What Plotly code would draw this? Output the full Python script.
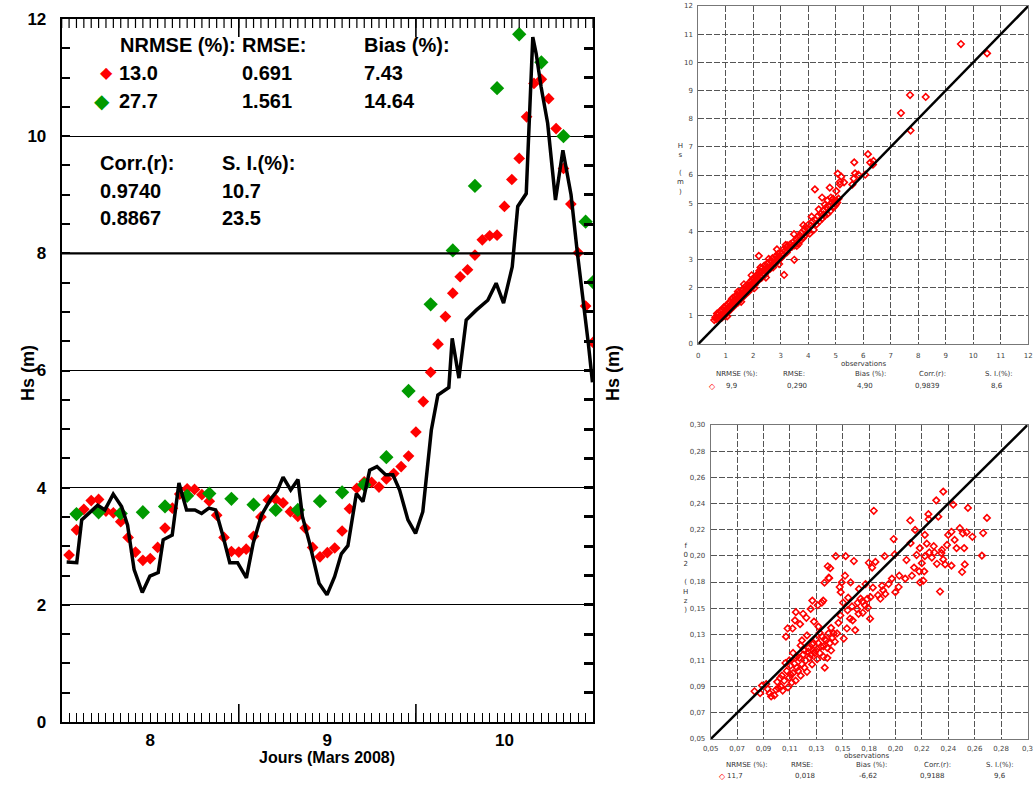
import numpy as np
import plotly.graph_objects as go

# ---------------- Left panel: Hs time series (March 2008) ----------------
obs_day = [7.528, 7.585, 7.613, 7.660, 7.703, 7.744, 7.791, 7.838, 7.872, 7.909,
           7.955, 7.998, 8.045, 8.073, 8.124, 8.162, 8.205, 8.252, 8.290, 8.331,
           8.369, 8.411, 8.449, 8.493, 8.543, 8.581, 8.628, 8.681, 8.718, 8.750,
           8.793, 8.834, 8.859, 8.900, 8.953, 8.998, 9.041, 9.079, 9.116, 9.164,
           9.201, 9.239, 9.280, 9.329, 9.370, 9.408, 9.455, 9.498, 9.539, 9.587,
           9.624, 9.686, 9.705, 9.743, 9.784, 9.841, 9.906, 9.953, 9.995, 10.044,
           10.075, 10.123, 10.137, 10.160, 10.179, 10.207, 10.244, 10.288, 10.330, 10.376,
           10.412, 10.451, 10.474, 10.497]
obs_hs = [2.73, 2.72, 3.45, 3.59, 3.70, 3.62, 3.89, 3.68, 3.36, 2.60,
          2.21, 2.49, 2.55, 3.11, 3.19, 4.08, 3.62, 3.62, 3.56, 3.65,
          3.62, 3.17, 2.72, 2.72, 2.46, 3.05, 3.53, 3.81, 3.95, 4.18,
          3.96, 4.14, 3.51, 3.05, 2.37, 2.17, 2.48, 2.87, 3.01, 3.90,
          3.76, 4.30, 4.36, 4.22, 4.22, 3.96, 3.45, 3.22, 3.59, 4.98,
          5.58, 5.71, 6.55, 5.87, 6.86, 7.03, 7.20, 7.49, 7.15, 7.77,
          8.80, 9.02, 10.10, 11.69, 11.41, 10.84, 10.22, 8.91, 9.76, 9.00,
          8.00, 7.05, 6.45, 5.80]

# model 1 (red): hourly, hours counted from 7 March 00:00
model1_hour = list(range(13, 85))
model1_hs = [2.85, 3.28, 3.63, 3.78, 3.80, 3.60, 3.57, 3.42, 3.15, 2.90,
             2.76, 2.79, 2.98, 3.31, 3.65, 3.89, 3.98, 3.97, 3.88, 3.77,
             3.53, 3.15, 2.91, 2.90, 2.95, 3.17, 3.50, 3.79, 3.80, 3.74,
             3.59, 3.51, 3.31, 2.98, 2.82, 2.89, 2.97, 3.26, 3.64, 3.99,
             4.10, 4.09, 4.01, 4.15, 4.24, 4.36, 4.54, 4.95, 5.47, 5.97,
             6.45, 6.92, 7.32, 7.60, 7.72, 7.97, 8.23, 8.30, 8.31, 8.80,
             9.26, 9.62, 10.33, 10.90, 10.97, 10.64, 10.13, 9.45, 8.84, 8.01,
             7.10, 6.48]
# model 2 (green): 3-hourly
model2_hour = [14, 17, 20, 23, 26, 29, 32, 35, 38, 41, 44, 47, 50, 53, 56, 59,
               62, 65, 68, 71, 74, 77, 80, 83, 84]
model2_hs = [3.55, 3.58, 3.56, 3.58, 3.68, 3.86, 3.90, 3.81, 3.71, 3.62,
             3.62, 3.77, 3.92, 4.05, 4.52, 5.65, 7.13, 8.05, 9.15, 10.82,
             11.74, 11.26, 10.00, 8.54, 7.51]

day_range = [7.5, 10.5]
day_ticks = [8, 9, 10]
day_labels = ["8", "9", "10"]
half_day_ticks = [8.5, 9.5]
hour_ticks = [7.5 + k / 24 for k in range(73)]
hs_ticks = [0, 2, 4, 6, 8, 10, 12]
hs_half_ticks = [0.5 * i for i in range(25)]
strong_level = [8]

# ---------------- Top right: Hs scatter ----------------
hs_range = [0, 12]
hs_obs = [0.58, 0.62, 0.65, 0.70, 0.72, 0.75, 0.78, 0.80, 0.83, 0.85,
          0.88, 0.90, 0.93, 0.95, 0.98, 1.00, 1.02, 1.05, 1.08, 1.10,
          1.12, 1.15, 1.18, 1.20, 1.22, 1.25, 1.28, 1.30, 1.33, 1.35,
          1.38, 1.40, 1.42, 1.45, 1.48, 1.50, 1.52, 1.55, 1.58, 1.60,
          1.62, 1.65, 1.68, 1.70, 1.72, 1.75, 1.78, 1.80, 1.82, 1.85,
          1.88, 1.90, 1.92, 1.95, 1.98, 2.00, 2.02, 2.05, 2.08, 2.10,
          2.12, 2.15, 2.18, 2.20, 2.22, 2.25, 2.28, 2.30, 2.33, 2.35,
          2.38, 2.40, 2.42, 2.45, 2.48, 2.50, 2.52, 2.55, 2.58, 2.60,
          2.62, 2.65, 2.68, 2.70, 2.72, 2.75, 2.78, 2.80, 2.82, 2.85,
          2.88, 2.90, 2.92, 2.95, 2.98, 3.00, 3.05, 3.08, 3.10, 3.15,
          3.20, 3.22, 3.25, 3.30, 3.35, 3.40, 3.45, 3.50, 3.55, 3.60,
          3.62, 3.65, 3.70, 3.72, 3.75, 3.80, 3.85, 3.88, 3.90, 3.95,
          4.00, 4.02, 4.05, 4.10, 4.15, 4.20, 4.25, 4.30, 4.35, 4.40,
          4.45, 4.50, 4.55, 4.60, 4.65, 4.70,
          4.75, 4.80, 4.85, 4.90, 4.95, 5.00, 5.02, 4.60, 4.70, 4.82,
          4.95, 4.55, 4.88, 5.05,
          2.20, 3.12, 3.49, 4.24, 4.50, 4.78, 4.90, 5.02, 5.10, 5.07,
          5.15, 5.15, 5.20, 5.30, 5.60, 5.65, 5.67, 5.70, 5.82, 6.07,
          6.17, 6.25, 6.35, 6.37, 7.37, 7.72, 7.70, 8.27, 9.55, 10.50,
          0.68, 0.92, 1.26, 1.44, 1.66, 1.94, 2.26, 2.56, 2.86, 3.18,
          3.48, 3.82, 4.12, 4.38, 1.05, 1.56, 2.04, 2.46, 2.94, 3.58]
hs_mod = [0.85, 0.95, 0.88, 1.02, 0.90, 1.10, 0.97, 1.18, 1.05, 0.93,
          1.20, 1.08, 1.30, 1.00, 1.15, 1.35, 1.22, 1.10, 1.42, 1.30,
          1.18, 1.50, 1.36, 1.25, 1.60, 1.45, 1.33, 1.55, 1.68, 1.40,
          1.52, 1.75, 1.60, 1.48, 1.70, 1.82, 1.58, 1.72, 1.90, 1.65,
          1.80, 1.95, 1.72, 1.88, 2.05, 1.80, 1.95, 2.10, 1.85, 2.02,
          2.20, 1.95, 2.12, 2.28, 2.05, 2.18, 2.35, 2.10, 2.25, 2.42,
          2.20, 2.35, 2.50, 2.28, 2.60, 2.42, 2.55, 2.35, 2.70, 2.50,
          2.62, 2.78, 2.45, 2.68, 2.58, 2.85, 2.70, 2.62, 2.90, 2.75,
          2.68, 2.95, 2.80, 3.05, 2.72, 2.88, 3.00, 2.85, 3.12, 2.95,
          3.05, 3.20, 2.98, 3.10, 3.25, 3.05, 3.22, 3.35, 3.15, 3.30,
          3.42, 3.25, 3.50, 3.38, 3.55, 3.45, 3.62, 3.50, 3.70, 3.60,
          3.78, 3.55, 3.85, 3.68, 3.95, 3.75, 4.05, 3.85, 4.15, 3.95,
          4.10, 4.25, 3.92, 4.20, 4.35, 4.05, 4.40, 4.25, 4.55, 4.35,
          4.62, 4.45, 4.75, 4.55, 4.85, 4.62,
          4.90, 4.72, 5.00, 4.85, 5.05, 4.95, 5.10, 4.95, 5.10, 5.20,
          4.88, 4.60, 5.12, 5.02,
          3.13, 2.45, 2.99, 5.49, 5.20, 5.55, 5.16, 5.43, 5.16, 6.05,
          5.76, 5.67, 5.94, 5.74, 5.66, 5.87, 6.45, 6.06, 6.01, 6.01,
          6.74, 6.44, 6.37, 6.50, 8.20, 7.58, 8.84, 8.77, 10.65, 10.32,
          1.08, 1.28, 1.64, 1.86, 2.12, 2.44, 2.72, 3.02, 3.36, 3.52,
          3.90, 4.22, 4.52, 4.78, 0.98, 1.50, 1.98, 2.36, 2.84, 3.48]
hs_axis_labels = [str(v) for v in range(0, 13)]
hs_axis_ticks = list(range(0, 13))

# ---------------- Bottom right: f02 scatter ----------------
f02_range = [0.05, 0.30]
f02_ticktext_x = ["0,05", "0,07", "0,09", "0,11", "0,13", "0,15", "0,18",
                  "0,20", "0,22", "0,24", "0,26", "0,28", "0,3"]
f02_ticktext_y = ["0,05", "0,07", "0,09", "0,11", "0,13", "0,15", "0,18",
                  "0,20", "0,22", "0,24", "0,26", "0,28", "0,30"]
f02_obs = [0.0846, 0.089, 0.0905, 0.0938, 0.095, 0.0965, 0.0977, 0.1003, 0.1016, 0.1025,
           0.1035, 0.1048, 0.1055, 0.1062, 0.1068,
           0.108, 0.110, 0.111, 0.112, 0.113, 0.114, 0.115, 0.116, 0.117, 0.118,
           0.119, 0.120, 0.121, 0.122, 0.123, 0.124, 0.125, 0.126, 0.127, 0.128,
           0.129, 0.130, 0.131, 0.132, 0.133, 0.134, 0.135, 0.136, 0.137, 0.138,
           0.139, 0.140, 0.141, 0.142, 0.143, 0.144, 0.145, 0.146, 0.147, 0.148,
           0.109, 0.112, 0.115, 0.118, 0.121, 0.124, 0.127, 0.130, 0.133, 0.136,
           0.139, 0.142, 0.145, 0.113, 0.117, 0.122, 0.126, 0.131, 0.135, 0.140,
           0.1094, 0.1107, 0.1146, 0.1172, 0.1229, 0.1289, 0.1302, 0.1388, 0.1398, 0.1432,
           0.1424, 0.1165, 0.1205, 0.1255, 0.1315, 0.1345, 0.1377, 0.1443, 0.1435, 0.1487,
           0.1497, 0.1523, 0.155, 0.1575, 0.160, 0.164, 0.1667, 0.1719, 0.1758, 0.1508,
           0.1534, 0.1518, 0.1526, 0.1565, 0.156, 0.1604, 0.163, 0.167, 0.1683, 0.1722,
           0.1748, 0.1761, 0.1774, 0.178, 0.180, 0.1839, 0.1852, 0.1878, 0.1904, 0.1957,
           0.1983, 0.1873, 0.1952, 0.1944, 0.193, 0.1988, 0.158, 0.162, 0.166, 0.170,
           0.174, 0.1787, 0.182, 0.186, 0.1545, 0.1585, 0.1615, 0.1655, 0.1695, 0.1735,
           0.2335, 0.228, 0.222, 0.2296, 0.2414, 0.253, 0.268, 0.265, 0.2565, 0.2466,
           0.249, 0.252, 0.244, 0.250, 0.2374, 0.240, 0.232, 0.2335, 0.235, 0.240,
           0.2484, 0.2505, 0.264, 0.219, 0.215, 0.219, 0.2166, 0.2178, 0.231, 0.2113,
           0.2077, 0.2075, 0.2218, 0.2152, 0.2088, 0.2035, 0.2225, 0.226, 0.2045, 0.2105,
           0.2125, 0.2245, 0.2285, 0.2365, 0.2425, 0.2185, 0.2205, 0.2265, 0.2145, 0.2325]
f02_mod = [0.088, 0.0865, 0.0925, 0.0937, 0.0898, 0.0865, 0.0839, 0.0847, 0.0893, 0.0955,
           0.0905, 0.0985, 0.0917, 0.1005, 0.0886,
           0.0964, 0.1042, 0.0911, 0.099, 0.1085, 0.095, 0.1025, 0.1099, 0.0964, 0.1068,
           0.1042, 0.1146, 0.1005, 0.1095, 0.1172, 0.1068, 0.1125, 0.1035, 0.1224, 0.1146,
           0.1172, 0.1094, 0.1263, 0.1185, 0.1205, 0.1135, 0.1263, 0.1185, 0.1237, 0.1315,
           0.1237, 0.1068, 0.1285, 0.1146, 0.1341, 0.1263, 0.1205, 0.1305, 0.1341, 0.1275,
           0.1105, 0.1125, 0.1185, 0.1155, 0.1245, 0.1205, 0.1195, 0.1255, 0.1295, 0.1345,
           0.1155, 0.1225, 0.1385, 0.1015, 0.1145, 0.1285, 0.1325, 0.1205, 0.1395, 0.1295,
           0.1315, 0.138, 0.138, 0.151, 0.1497, 0.1536, 0.1602, 0.1602, 0.1745, 0.1784,
           0.1875, 0.1445, 0.1415, 0.1465, 0.1435, 0.1565, 0.1585, 0.186, 0.178, 0.1956,
           0.1341, 0.1484, 0.130, 0.138, 0.1458, 0.1367, 0.1497, 0.1562, 0.1458, 0.1425,
           0.1747, 0.171, 0.1669, 0.1956, 0.180, 0.1747, 0.1917, 0.1695, 0.1617, 0.1734,
           0.1903, 0.163, 0.1864, 0.1705, 0.191, 0.1617, 0.172, 0.1655, 0.1734, 0.1669,
           0.171, 0.1956, 0.1969, 0.2092, 0.1777, 0.180, 0.1525, 0.1445, 0.1585, 0.1505,
           0.1545, 0.2317, 0.1645, 0.1685, 0.1585, 0.1625, 0.1555, 0.1535, 0.1595, 0.1615,
           0.247, 0.240, 0.225, 0.227, 0.2366, 0.234, 0.226, 0.214, 0.211, 0.2178,
           0.2138, 0.2146, 0.202, 0.202, 0.2125, 0.215, 0.198, 0.193, 0.189, 0.188,
           0.183, 0.189, 0.196, 0.2125, 0.202, 0.1956, 0.190, 0.176, 0.1674, 0.2165,
           0.206, 0.224, 0.229, 0.1747, 0.180, 0.1777, 0.1985, 0.2035, 0.1925, 0.1865,
           0.1965, 0.1945, 0.1895, 0.2045, 0.2085, 0.1835, 0.2055, 0.1985, 0.1835, 0.2005]

assert len(obs_day) == len(obs_hs)
assert len(model1_hour) == len(model1_hs)
assert len(model2_hour) == len(model2_hs)
assert len(hs_obs) == len(hs_mod), (len(hs_obs), len(hs_mod))
assert len(f02_obs) == len(f02_mod), (len(f02_obs), len(f02_mod))

stat_labels = ["NRMSE (%):", "RMSE:", "Bias (%):", "Corr.(r):", "S. I.(%):"]
hs_stats = ["9,9", "0,290", "4,90", "0,9839", "8,6"]
f02_stats = ["11,7", "0,018", "-6,62", "0,9188", "9,6"]

# ---------------- Figure ----------------
W, H = 1034, 785
RED = "#ff0000"
GREEN = "#009a00"

model1_day = [7 + h / 24 for h in model1_hour]
model2_day = [7 + h / 24 for h in model2_hour]

fig = go.Figure()
fig.add_trace(go.Scatter(x=model1_day, y=model1_hs, mode="markers",
                         marker=dict(symbol="diamond", size=9, color=RED),
                         xaxis="x", yaxis="y", cliponaxis=True))
fig.add_trace(go.Scatter(x=model2_day, y=model2_hs, mode="markers",
                         marker=dict(symbol="diamond", size=11, color=GREEN),
                         xaxis="x", yaxis="y", cliponaxis=True))
fig.add_trace(go.Scatter(x=obs_day, y=obs_hs, mode="lines",
                         line=dict(color="black", width=3.5),
                         xaxis="x", yaxis="y", cliponaxis=True))
# empty trace so that the right-edge tick axis gets drawn
fig.add_trace(go.Scatter(x=[None], y=[None], xaxis="x", yaxis="y4", hoverinfo="skip"))

fig.add_trace(go.Scatter(x=hs_obs, y=hs_mod, mode="markers",
                         marker=dict(symbol="diamond-open", size=5, color=RED,
                                     line=dict(width=1.6, color=RED)),
                         xaxis="x2", yaxis="y2"))
fig.add_trace(go.Scatter(x=hs_range, y=hs_range, mode="lines",
                         line=dict(color="black", width=2.5), xaxis="x2", yaxis="y2"))

fig.add_trace(go.Scatter(x=f02_obs, y=f02_mod, mode="markers",
                         marker=dict(symbol="diamond-open", size=5, color=RED,
                                     line=dict(width=1.6, color=RED)),
                         xaxis="x3", yaxis="y3"))
fig.add_trace(go.Scatter(x=f02_range, y=f02_range, mode="lines",
                         line=dict(color="black", width=2.5), xaxis="x3", yaxis="y3"))

bold = dict(family="Liberation Sans", size=17, color="black", weight="bold")
small = dict(family="DejaVu Sans", size=7, color="#444")

def px(xp):
    return xp / W

def py(yp):
    return 1 - yp / H

left_dom_x = [px(61.7), px(593)]
left_dom_y = [py(722), py(19)]
left_h_px = 722 - 19

grid_common = dict(showgrid=True, gridcolor="#555", gridwidth=1, griddash="6px,2px",
                   showline=True, linecolor="#777", linewidth=1, mirror=True,
                   ticks="", zeroline=False, tickfont=small,
                   automargin=False)

f02_tickvals = list(np.linspace(f02_range[0], f02_range[1], len(f02_ticktext_x)))

hour_minor = dict(tickvals=hour_ticks, ticks="inside", ticklen=9, tickwidth=1.2,
                  tickcolor="black", showgrid=False)

fig.update_layout(
    width=W, height=H, margin=dict(l=0, r=0, t=0, b=0, autoexpand=False),
    paper_bgcolor="white", plot_bgcolor="white", showlegend=False,
    xaxis=dict(domain=left_dom_x, range=day_range, anchor="y", automargin=False,
               tickvals=day_ticks, ticktext=day_labels, ticks="inside", ticklen=9,
               tickwidth=1.2, tickcolor="black", showline=True, linewidth=2,
               linecolor="black", mirror=True, showgrid=False, zeroline=False,
               tickfont=bold, ticklabelstandoff=2, minor=hour_minor),
    yaxis=dict(domain=left_dom_y, range=hs_range, anchor="x", automargin=False,
               tickvals=hs_ticks, ticks="inside", ticklen=8, tickwidth=1.5,
               tickcolor="black", showline=True, linewidth=2, linecolor="black",
               mirror=True, showgrid=True, gridcolor="black", gridwidth=1.3,
               zeroline=False, tickfont=bold, ticklabelstandoff=10,
               minor=dict(dtick=0.5, ticks="inside", ticklen=8, tickwidth=1.5,
                          tickcolor="black", showgrid=False)),
    # right edge ticks
    yaxis4=dict(overlaying="y", anchor="x", side="right", range=hs_range,
                tickvals=hs_half_ticks, ticks="inside", ticklen=9, tickwidth=2.5,
                tickcolor="black", showticklabels=False, showgrid=False,
                showline=False, zeroline=False, automargin=False),
    xaxis2=dict(domain=[px(698.3), px(1028.3)], range=hs_range, anchor="y2",
                tickvals=hs_axis_ticks, ticktext=hs_axis_labels,
                ticklabelstandoff=5, **grid_common),
    yaxis2=dict(domain=[py(344), py(6)], range=hs_range, anchor="x2",
                tickvals=hs_axis_ticks, ticktext=hs_axis_labels,
                ticklabelstandoff=3, **grid_common),
    xaxis3=dict(domain=[px(710.7), px(1027.5)], range=f02_range, anchor="y3",
                tickvals=f02_tickvals, ticktext=f02_ticktext_x,
                ticklabelstandoff=3, **grid_common),
    yaxis3=dict(domain=[py(739), py(425)], range=f02_range, anchor="x3",
                tickvals=f02_tickvals, ticktext=f02_ticktext_y,
                ticklabelstandoff=3, **grid_common),
)

# thicker reference grid line
for lv in strong_level:
    fig.add_shape(type="line", xref="x domain", yref="y", x0=0, x1=1, y0=lv, y1=lv,
                  line=dict(color="black", width=2.2))

# tick marks on the top edge (hourly) and long half-day ticks (top + bottom)
short = 9 / left_h_px
long_ = 18 / left_h_px
for t in hour_ticks:
    fig.add_shape(type="line", xref="x", yref="y domain", x0=t, x1=t, y0=1, y1=1 - short,
                  line=dict(color="black", width=1.2))
for t in half_day_ticks:
    fig.add_shape(type="line", xref="x", yref="y domain", x0=t, x1=t, y0=1, y1=1 - long_,
                  line=dict(color="black", width=1.6))
    fig.add_shape(type="line", xref="x", yref="y domain", x0=t, x1=t, y0=0, y1=long_,
                  line=dict(color="black", width=1.6))

ann = []

def txt(x, y, s, font, xanchor="left", yanchor="middle", angle=0):
    ann.append(dict(x=x, y=y, xref="paper", yref="paper", text=s, showarrow=False,
                    xanchor=xanchor, yanchor=yanchor, font=font, textangle=angle))

big = dict(family="Liberation Sans", size=20, color="black", weight="bold")
# statistics block in left panel
txt(px(118), py(45), "NRMSE (%):", big)
txt(px(240), py(45), "RMSE:", big)
txt(px(362), py(45), "Bias (%):", big)
txt(px(106), py(73), "◆", dict(family="DejaVu Sans", size=16, color=RED), xanchor="center")
txt(px(117), py(73), "13.0", big)
txt(px(240), py(73), "0.691", big)
txt(px(362), py(73), "7.43", big)
txt(px(102), py(101), "◆", dict(family="DejaVu Sans", size=20, color=GREEN), xanchor="center")
txt(px(117), py(101), "27.7", big)
txt(px(240), py(101), "1.561", big)
txt(px(362), py(101), "14.64", big)
txt(px(98), py(163), "Corr.(r):", big)
txt(px(220), py(163), "S. I.(%):", big)
txt(px(98), py(191), "0.9740", big)
txt(px(220), py(191), "10.7", big)
txt(px(98), py(218), "0.8867", big)
txt(px(220), py(218), "23.5", big)

# axis titles left panel
ttl = dict(family="Liberation Sans", size=18, color="black", weight="bold")
txt(px(28), py(373), "Hs (m)", ttl, xanchor="center", angle=-90)
txt(px(613), py(373), "Hs (m)", ttl, xanchor="center", angle=-90)
txt(px(327), py(757), "Jours (Mars 2008)", dict(family="Liberation Sans", size=16, color="black", weight="bold"),
    xanchor="center")

# scatter titles / stats
lab = dict(family="DejaVu Sans", size=7, color="#333")
txt(px(680), py(169), "H<br>s<br><br>(<br>m<br>)", lab, xanchor="center")
txt(px(685), py(578), "f<br>0<br>2<br><br>(<br>H<br>z<br>)", lab, xanchor="center")

txt(px(863), py(364), "observations", lab, xanchor="center")
top_lab_x = [736.5, 794, 870.5, 932.5, 999]
top_val_x = [731, 797, 865, 927.5, 996.5]
for s, xx in zip(stat_labels, top_lab_x):
    txt(px(xx), py(374), s, lab, xanchor="center")
for s, xx in zip(hs_stats, top_val_x):
    txt(px(xx), py(386), s, lab, xanchor="center")
txt(px(712.7), py(386), "◇", dict(family="DejaVu Sans", size=8, color=RED), xanchor="center")

txt(px(866.7), py(756), "observations", lab, xanchor="center")
bot_lab_x = [746.7, 802, 871, 937.5, 1000]
bot_val_x = [735, 804.5, 867.5, 932.5, 999.5]
for s, xx in zip(stat_labels, bot_lab_x):
    txt(px(xx), py(765), s, lab, xanchor="center")
for s, xx in zip(f02_stats, bot_val_x):
    txt(px(xx), py(776), s, lab, xanchor="center")
txt(px(722.3), py(776), "◇", dict(family="DejaVu Sans", size=8, color=RED), xanchor="center")

fig.update_layout(annotations=ann)
fig.write_html("out.html", config={"displayModeBar": False},
               post_script="document.body.style.margin='0';document.body.style.overflow='hidden';")
